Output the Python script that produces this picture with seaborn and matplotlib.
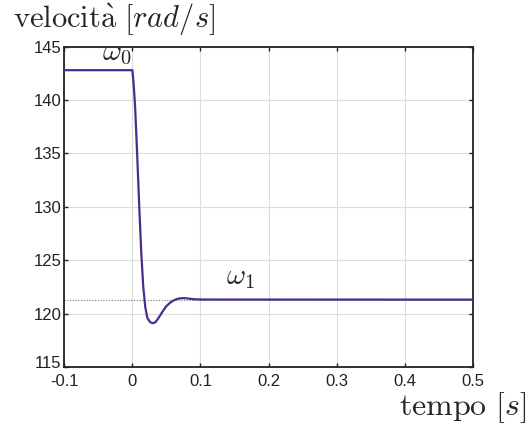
import matplotlib
matplotlib.use("Agg")
import matplotlib.pyplot as plt
import matplotlib.transforms as mtransforms
import pandas as pd
import seaborn as sns

# step response of the speed
tempo = [-0.1, 0.000, 0.002, 0.004, 0.007, 0.010, 0.013, 0.016, 0.019, 0.022,
         0.026, 0.030, 0.034, 0.038, 0.042, 0.046, 0.050, 0.055, 0.060, 0.065,
         0.070, 0.075, 0.080, 0.085, 0.090, 0.100, 0.500]
velocita = [142.8, 142.8, 141.4, 139.4, 135.0, 130.2, 125.8, 122.5, 120.6, 119.6,
            119.2, 119.1, 119.2, 119.55, 119.95, 120.35, 120.7, 121.0, 121.22, 121.36,
            121.43, 121.45, 121.43, 121.39, 121.35, 121.32, 121.31]
omega1_ref = 121.31

x_ticks = [-0.1, 0, 0.1, 0.2, 0.3, 0.4, 0.5]
x_ticklabels = ["-0.1", "0", "0.1", "0.2", "0.3", "0.4", "0.5"]
y_ticks = [115, 120, 125, 130, 135, 140, 145]

sns.set_theme(style="ticks")
plt.rcParams["font.family"] = ["Liberation Sans", "DejaVu Sans"]
plt.rcParams["mathtext.fontset"] = "cm"
plt.rcParams["axes.unicode_minus"] = False

df = pd.DataFrame({"t": tempo, "w": velocita})

fig = plt.figure(figsize=(5.31, 4.28), dpi=100)
ax = fig.add_axes([0.1211, 0.1425, 0.7691, 0.7484])

ax.axhline(omega1_ref, ls=(0, (1, 1.5)), color="#777777", lw=0.8, zorder=1)
sns.lineplot(data=df, x="t", y="w", ax=ax, color="#4b2c8c", lw=1.6, zorder=3)

ax.set_xlim(-0.1, 0.5)
ax.set_ylim(115, 145)
ax.set_xticks(x_ticks)
ax.set_xticklabels(x_ticklabels)
ax.set_yticks(y_ticks)
ax.grid(True, color="#dcdcdc", lw=0.8)
ax.set_axisbelow(True)
ax.tick_params(direction="in", length=3, width=1, top=True, right=True,
               labelsize=12, colors="#222222")
ax.tick_params(axis="x", pad=5)
ax.tick_params(axis="y", pad=2)
for s in ax.spines.values():
    s.set_linewidth(1.3)
    s.set_color("#222222")
ax.set_xlabel("")
ax.set_ylabel("")

# MATLAB-like: lowest y label sits a little above the corner
lab = ax.get_yticklabels()[0]
lab.set_transform(lab.get_transform() + mtransforms.ScaledTranslation(0, 5 / 100, fig.dpi_scale_trans))

ax.text(-0.045, 143.72, r"$\omega_0$", fontsize=21, va="baseline")
ax.text(0.138, 122.8, r"$\omega_1$", fontsize=21, va="baseline")

fig.text(0.024, 0.997, r"$\mathrm{velocit\grave{a}}\ [rad/s]$", fontsize=22, va="top")
fig.text(0.99, 0.006, r"$\mathrm{tempo}\ [s]$", fontsize=23, ha="right", va="bottom")

fig.savefig("out.png", dpi=100)
